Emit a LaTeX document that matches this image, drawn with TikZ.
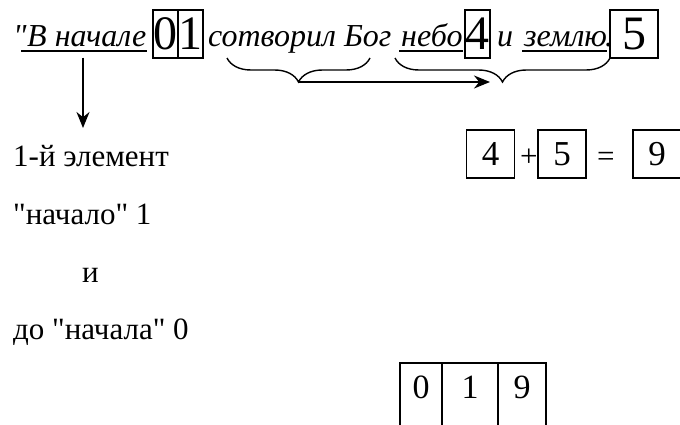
\documentclass[tikz,border=0pt]{standalone}
\usepackage{fontspec}
\setmainfont{Liberation Serif}
\newfontfamily\plainserif{Liberation Serif}
\usetikzlibrary{arrows.meta}
\usetikzlibrary{decorations.pathreplacing}

\begin{document}
\begin{tikzpicture}
		[x=1pt, y=-1pt,
		 txt/.style={inner sep=0, anchor=base west, font=\plainserif\fontsize{31}{36}\selectfont},
		 itxt/.style={txt, font=\plainserif\fontsize{32}{36}\selectfont\itshape},
		 bigbox/.style={draw, line width=1.3pt, inner sep=0, minimum height=48pt, font=\plainserif\fontsize{48}{50}\selectfont},
		 numbox/.style={draw, line width=1.2pt, inner sep=0, minimum width=48pt, minimum height=48pt, font=\plainserif\fontsize{35}{38}\selectfont},
		 celltxt/.style={inner sep=0, anchor=base, font=\plainserif\fontsize{34}{38}\selectfont},
		 uline/.style={line width=1.2pt},
		 brc/.style={decorate, decoration={brace, mirror, amplitude=24pt}, line width=1.4pt},
		 arr/.style={line width=2pt, -{Stealth[length=16pt, width=13pt]}}]
		\useasboundingbox (0,0) rectangle (680,425);

		% first line
		\node[itxt] (quote) at (13,47) {"};
		\node[itxt] (vnach) at (27,47) {В начале};
		\node[bigbox, minimum width=25pt] (b0) at (165.5,34) {0};
		\node[bigbox, minimum width=25pt] (b1) at (190.5,34) {1};
		\node[itxt] (sotv) at (208,47) {сотворил Бог};
		\node[itxt] (nebo) at (401,47) {небо};
		\node[bigbox, minimum width=25pt] (b4) at (477.5,34) {4};
		\node[itxt] (andi) at (497,47) {и};
		\node[itxt] (zeml) at (524,47) {землю};
		\node[itxt] (dot) at (605,47) {.};
		\node[bigbox, minimum width=48pt] (b5) at (634,34) {5};

		\draw[uline] ([shift={(-6,4)}]vnach.base west) -- ([shift={(0,4)}]vnach.base east);
		\draw[uline] ([shift={(-2,4)}]nebo.base west) -- ([shift={(0,4)}]nebo.base east);
		\draw[uline] ([shift={(-2,4)}]zeml.base west) -- ([shift={(0,4)}]zeml.base east);

		\coordinate (lbl) at (227,58);
		\coordinate (lbr) at (370,58);
		\coordinate (rbl) at (395,58);
		\coordinate (rbr) at (610,58);
		\coordinate (lcusp) at (298.5,82);
		\coordinate (rtip) at (490,82);
		\draw[brc] (lbl) -- (lbr);
		\draw[brc] (rbl) -- (rbr);
		\draw[arr] (lcusp) -- (rtip);

		% left column
		\coordinate (downtip) at (83,128);
		\draw[arr, shorten <=10pt] (vnach.south -| downtip) -- (downtip);
		\node[txt] (elem) at (13,167) {1-й элемент};
		\node[txt] (nach1) at (13,224.5) {"начало" 1};
		\node[txt] (andw) at (82,282) {и};
		\node[txt] (donach) at (13,339.5) {до "начала" 0};

		% sum
		\node[numbox] (s4) at (490.5,154) {4};
		\node[txt] (plus) at (520,167) {+};
		\node[numbox] (s5) at (562,154) {5};
		\node[txt] (eq) at (597,167) {=};
		\node[numbox] (s9) at (657,154) {9};

		% table
		\draw[line width=2pt] (400,430) -- (400,363) -- (546,363) -- (546,430);
		\draw[line width=2pt] (442,363) -- (442,430);
		\draw[line width=2pt] (498,363) -- (498,430);
		\node[celltxt] (t0) at (421,398) {0};
		\node[celltxt] (t1) at (470,398) {1};
		\node[celltxt] (t9) at (522,398) {9};
	\end{tikzpicture}
\end{document}
